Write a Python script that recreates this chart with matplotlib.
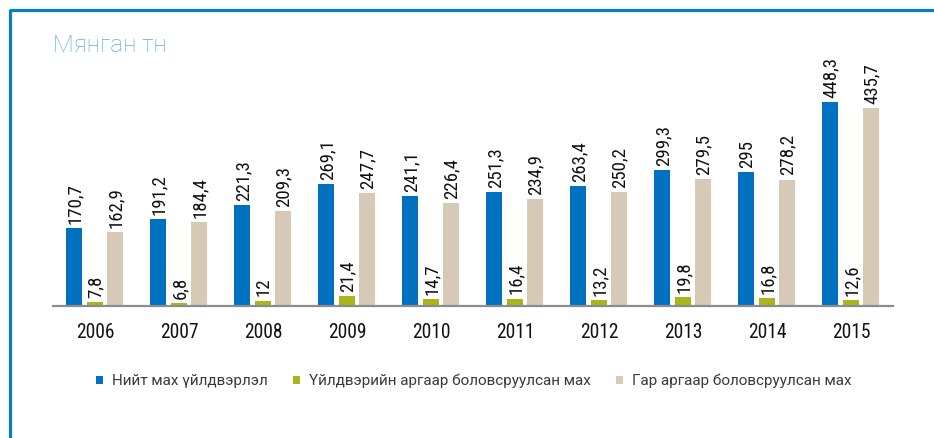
import matplotlib
matplotlib.use("Agg")
import matplotlib.pyplot as plt
from matplotlib.lines import Line2D
from matplotlib import font_manager as fm
import numpy as np

years = ["2006", "2007", "2008", "2009", "2010", "2011", "2012", "2013", "2014", "2015"]
total = [170.7, 191.2, 221.3, 269.1, 241.1, 251.3, 263.4, 299.3, 295, 448.3]
industrial = [7.8, 6.8, 12, 21.4, 14.7, 16.4, 13.2, 19.8, 16.8, 12.6]
manual = [162.9, 184.4, 209.3, 247.7, 226.4, 234.9, 250.2, 279.5, 278.2, 435.7]
series_names = ["Нийт мах үйлдвэрлэл",
                "Үйлдвэрийн аргаар боловсруулсан мах",
                "Гар аргаар боловсруулсан мах"]
title = "Мянган тн"

colors = ["#0070c0", "#a9b51a", "#d6cab6"]

available = {f.name for f in fm.fontManager.ttflist}
def pick(cands):
    for c in cands:
        if c in available:
            return c
    return "DejaVu Sans"

COND = pick(["Roboto Condensed", "Liberation Sans Narrow", "Arimo Narrow", "PT Sans Narrow",
             "Fira Sans Condensed", "IBM Plex Sans Condensed", "Archivo Narrow"])
REG = pick(["Roboto", "Liberation Sans", "DejaVu Sans"])
LIGHT = pick(["Roboto Light", "Roboto"])

W, H = 934, 438
fig = plt.figure(figsize=(W / 100, H / 100), dpi=100)
fig.patch.set_facecolor("white")
renderer = fig.canvas.get_renderer()

def size_for(text, family, target_px, weight="normal"):
    t = fig.text(0, 0, text, fontsize=10, family=[family, "DejaVu Sans"], fontweight=weight)
    w = t.get_window_extent(renderer).width
    t.remove()
    return 10 * target_px / w

# axes placement in pixels
left_px, right_px, base_px, top_px = 53, 893, 306, 60
ax = fig.add_axes([left_px / W, (H - base_px) / H, (right_px - left_px) / W, (base_px - top_px) / H])
ax.set_xlim(-0.5, 9.5)
ax.set_ylim(0, (base_px - top_px) / 0.4546)

val_fs = size_for("448,3", COND, 41)
year_fs = size_for("2006", COND, 38)

x = np.arange(len(years))
width = 0.19
offs = [-0.245, 0.0, 0.24]
for data, off, c, name in zip([total, industrial, manual], offs, colors, series_names):
    ax.bar(x + off, data, width=width, color=c, label=name, zorder=2)
    for xi, v in zip(x + off, data):
        lab = f"{v:g}".replace(".", ",")
        ax.annotate(lab, (xi, v), xytext=(0.5, 3), textcoords="offset points",
                    rotation=90, ha="center", va="bottom", fontsize=val_fs,
                    family=[COND, "DejaVu Sans"], color="#111111")

for s in ["top", "right", "left"]:
    ax.spines[s].set_visible(False)
ax.spines["bottom"].set_color("#8c8c8c")
ax.spines["bottom"].set_linewidth(1.6)
ax.set_yticks([])
ax.set_xticks(x)
ax.set_xticklabels(years, fontsize=year_fs, family=[COND, "DejaVu Sans"], color="#111111")
ax.tick_params(axis="x", length=0, pad=12)

# title
if LIGHT == "Roboto Light":
    tw = "normal"
else:
    tw = "light"
title_fs = size_for(title, LIGHT, 114, tw)
fig.text(53 / W, 1 - 52 / H, title, fontsize=title_fs, color="#5aaee0",
         family=[LIGHT, "DejaVu Sans"], fontweight=tw, ha="left", va="baseline")

# legend
leg_fs = size_for(series_names[0], REG, 156)
f_px = leg_fs * 100 / 72
handles, labels = ax.get_legend_handles_labels()
leg = fig.legend(handles, labels, loc="center left", bbox_to_anchor=(96 / W, 1 - 381 / H),
                 ncol=3, frameon=False, handlelength=7 / f_px, handleheight=7 / f_px,
                 handletextpad=9 / f_px, columnspacing=25 / f_px, borderaxespad=0, borderpad=0,
                 prop={"family": [REG, "DejaVu Sans"], "size": leg_fs})
for t in leg.get_texts():
    t.set_color("#3a3a3a")

# frame lines (top and left)
fig.add_artist(Line2D([9.5 / W, 1], [1 - 10 / H, 1 - 10 / H], transform=fig.transFigure,
                      color="#0a7cc8", linewidth=2.3, solid_capstyle="butt"))
fig.add_artist(Line2D([9.5 / W, 9.5 / W], [1 - 8.5 / H, 0], transform=fig.transFigure,
                      color="#0a7cc8", linewidth=2.3, solid_capstyle="butt"))

fig.savefig("out.png", dpi=100)
